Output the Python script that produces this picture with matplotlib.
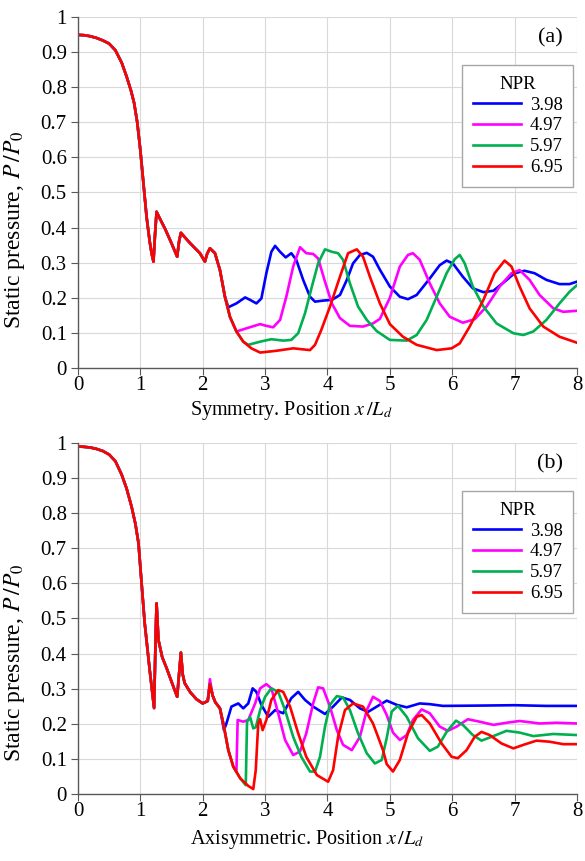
import numpy as np
import matplotlib.pyplot as plt

plt.rcParams["font.family"] = ["Liberation Serif", "DejaVu Serif"]
plt.rcParams["mathtext.fontset"] = "stix"

NPR = ["3.98", "4.97", "5.97", "6.95"]
COLORS = ["#0000ff", "#ff00ff", "#00b050", "#ff0000"]

# ---------------------------------------------------------------------------
# (a) Symmetry: common part (all NPR identical up to x ~ 2.36)
# ---------------------------------------------------------------------------
a_head_x = [0, 0.1, 0.2, 0.3, 0.4, 0.5, 0.6, 0.7, 0.78, 0.85, 0.9, 0.95, 1.0, 1.05,
            1.1, 1.15, 1.18, 1.21, 1.235, 1.26, 1.3, 1.4, 1.5, 1.59, 1.62, 1.65,
            1.7, 1.8, 1.955, 2.035, 2.07, 2.115, 2.196, 2.276, 2.356]
a_head_y = [0.949, 0.948, 0.945, 0.940, 0.933, 0.924, 0.905, 0.87, 0.83, 0.79,
            0.755, 0.70, 0.62, 0.525, 0.43, 0.36, 0.327, 0.303, 0.38, 0.445,
            0.43, 0.395, 0.355, 0.317, 0.36, 0.385, 0.375, 0.355, 0.327, 0.303,
            0.325, 0.341, 0.327, 0.279, 0.203]

a_x_398 = [2.41, 2.54, 2.68, 2.76, 2.86, 2.94, 3.02, 3.10, 3.16, 3.24, 3.33, 3.42,
           3.50, 3.61, 3.72, 3.80, 3.93, 4.07, 4.2, 4.31, 4.41, 4.52, 4.63, 4.73,
           4.84, 5.0, 5.16, 5.29, 5.43, 5.64, 5.80, 5.91, 6.01, 6.17, 6.33, 6.5,
           6.66, 6.84, 7.0, 7.16, 7.32, 7.51, 7.72, 7.88, 8.0]
a_y_398 = [0.173, 0.184, 0.201, 0.194, 0.184, 0.198, 0.27, 0.331, 0.348, 0.331,
           0.315, 0.327, 0.308, 0.251, 0.203, 0.189, 0.192, 0.194, 0.208, 0.251,
           0.298, 0.322, 0.328, 0.317, 0.28, 0.232, 0.203, 0.196, 0.208, 0.255,
           0.293, 0.306, 0.298, 0.26, 0.227, 0.216, 0.22, 0.246, 0.27, 0.277,
           0.27, 0.251, 0.239, 0.239, 0.246]

a_x_497 = [2.436, 2.54, 2.70, 2.92, 3.02, 3.13, 3.24, 3.34, 3.45, 3.56, 3.66, 3.77,
           3.85, 3.96, 4.07, 4.2, 4.36, 4.57, 4.73, 4.84, 4.92, 5.0, 5.16, 5.29,
           5.37, 5.48, 5.64, 5.80, 5.96, 6.17, 6.36, 6.55, 6.76, 6.95, 7.08, 7.24,
           7.40, 7.62, 7.78, 8.0]
a_y_497 = [0.146, 0.104, 0.113, 0.125, 0.12, 0.116, 0.137, 0.203, 0.289, 0.344,
           0.327, 0.325, 0.312, 0.246, 0.184, 0.142, 0.12, 0.118, 0.127, 0.14,
           0.17, 0.20, 0.289, 0.322, 0.327, 0.308, 0.241, 0.184, 0.146, 0.129,
           0.139, 0.175, 0.232, 0.27, 0.279, 0.251, 0.208, 0.17, 0.16, 0.163]

a_x_597 = [2.436, 2.54, 2.65, 2.73, 2.92, 3.10, 3.29, 3.42, 3.53, 3.64, 3.75, 3.85,
           3.96, 4.07, 4.17, 4.25, 4.36, 4.49, 4.63, 4.79, 5.0, 5.27, 5.43, 5.59,
           5.75, 5.91, 6.04, 6.12, 6.2, 6.33, 6.5, 6.71, 6.98, 7.14, 7.30, 7.51,
           7.72, 7.88, 8.0]
a_y_597 = [0.146, 0.104, 0.075, 0.066, 0.075, 0.082, 0.078, 0.08, 0.099, 0.156,
           0.232, 0.298, 0.338, 0.331, 0.327, 0.308, 0.241, 0.175, 0.137, 0.105,
           0.08, 0.078, 0.094, 0.137, 0.203, 0.27, 0.31, 0.322, 0.298, 0.232,
           0.175, 0.127, 0.099, 0.094, 0.104, 0.137, 0.184, 0.217, 0.236]

a_x_695 = [2.436, 2.54, 2.65, 2.78, 2.92, 3.18, 3.45, 3.72, 3.80, 3.90, 4.04, 4.2,
           4.33, 4.47, 4.57, 4.68, 4.84, 5.0, 5.21, 5.43, 5.75, 5.99, 6.12, 6.28,
           6.5, 6.68, 6.84, 6.95, 7.08, 7.24, 7.46, 7.72, 8.0]
a_y_695 = [0.146, 0.104, 0.075, 0.056, 0.044, 0.049, 0.056, 0.051, 0.066, 0.108,
           0.175, 0.26, 0.327, 0.338, 0.317, 0.26, 0.184, 0.125, 0.089, 0.066,
           0.051, 0.056, 0.07, 0.118, 0.194, 0.27, 0.306, 0.289, 0.232, 0.17,
           0.118, 0.089, 0.072]

# ---------------------------------------------------------------------------
# (b) Axisymmetric: common part up to x ~ 2.0
# ---------------------------------------------------------------------------
b_head_x = [0, 0.1, 0.2, 0.3, 0.4, 0.5, 0.6, 0.7, 0.78, 0.86, 0.92, 0.97, 1.02,
            1.07, 1.15, 1.22, 1.245, 1.26, 1.29, 1.35, 1.42, 1.5, 1.59, 1.65,
            1.68, 1.71, 1.8, 1.9, 2.0]
b_head_y = [0.99, 0.989, 0.987, 0.983, 0.977, 0.967, 0.948, 0.91, 0.87, 0.818,
            0.77, 0.715, 0.60, 0.486, 0.353, 0.245, 0.45, 0.543, 0.439, 0.39,
            0.359, 0.32, 0.277, 0.403, 0.34, 0.316, 0.29, 0.27, 0.258]

b_x_398 = [2.08, 2.115, 2.16, 2.2, 2.276, 2.34, 2.38, 2.46, 2.57, 2.65, 2.73, 2.80,
           2.86, 2.94, 3.05, 3.16, 3.29, 3.42, 3.53, 3.64, 3.77, 3.96, 4.09, 4.23,
           4.36, 4.52, 4.65, 4.79, 4.95, 5.11, 5.27, 5.48, 5.64, 5.85, 6.5, 7.0,
           7.5, 8.0]
b_y_398 = [0.265, 0.313, 0.28, 0.262, 0.244, 0.182, 0.201, 0.249, 0.258, 0.244,
           0.258, 0.301, 0.291, 0.254, 0.22, 0.239, 0.23, 0.273, 0.291, 0.268,
           0.249, 0.228, 0.249, 0.275, 0.268, 0.244, 0.234, 0.249, 0.266, 0.254,
           0.247, 0.258, 0.256, 0.251, 0.252, 0.253, 0.251, 0.251]

b_x_497 = [2.08, 2.115, 2.16, 2.2, 2.276, 2.33, 2.41, 2.49, 2.54, 2.56, 2.65, 2.73,
           2.84, 2.92, 3.02, 3.10, 3.21, 3.32, 3.45, 3.56, 3.66, 3.77, 3.85, 3.93,
           4.04, 4.15, 4.25, 4.39, 4.52, 4.63, 4.73, 4.84, 4.95, 5.05, 5.16, 5.27,
           5.37, 5.51, 5.64, 5.80, 5.93, 6.07, 6.25, 6.44, 6.66, 6.87, 7.08, 7.40,
           7.67, 8.0]
b_y_497 = [0.265, 0.327, 0.28, 0.262, 0.244, 0.201, 0.125, 0.078, 0.064, 0.211,
           0.206, 0.211, 0.258, 0.301, 0.313, 0.301, 0.23, 0.154, 0.111, 0.121,
           0.173, 0.258, 0.304, 0.301, 0.249, 0.182, 0.14, 0.125, 0.163, 0.239,
           0.277, 0.265, 0.225, 0.175, 0.154, 0.168, 0.211, 0.241, 0.23, 0.192,
           0.18, 0.192, 0.213, 0.206, 0.197, 0.203, 0.208, 0.201, 0.203, 0.201]

b_x_597 = [2.08, 2.115, 2.16, 2.2, 2.276, 2.33, 2.41, 2.49, 2.60, 2.69, 2.71, 2.76,
           2.81, 2.85, 2.92, 3.0, 3.10, 3.21, 3.32, 3.45, 3.58, 3.72, 3.80, 3.88,
           3.96, 4.04, 4.15, 4.25, 4.36, 4.49, 4.63, 4.76, 4.87, 4.95, 5.03, 5.13,
           5.27, 5.45, 5.64, 5.77, 5.91, 6.06, 6.17, 6.33, 6.47, 6.66, 6.87, 7.08,
           7.30, 7.62, 8.0]
b_y_597 = [0.265, 0.313, 0.28, 0.262, 0.244, 0.201, 0.125, 0.078, 0.045, 0.025,
           0.205, 0.219, 0.187, 0.19, 0.239, 0.277, 0.301, 0.291, 0.239, 0.163,
           0.106, 0.064, 0.064, 0.106, 0.192, 0.254, 0.279, 0.275, 0.239, 0.173,
           0.116, 0.087, 0.097, 0.16, 0.235, 0.251, 0.22, 0.159, 0.123, 0.135,
           0.177, 0.209, 0.197, 0.168, 0.152, 0.165, 0.18, 0.175, 0.165, 0.171,
           0.168]

b_x_695 = [2.08, 2.115, 2.16, 2.2, 2.276, 2.33, 2.41, 2.49, 2.60, 2.73, 2.81, 2.85,
           2.89, 2.92, 2.96, 3.02, 3.10, 3.21, 3.29, 3.40, 3.53, 3.66, 3.83, 4.01,
           4.09, 4.17, 4.28, 4.41, 4.57, 4.73, 4.89, 4.95, 5.05, 5.16, 5.29, 5.43,
           5.51, 5.64, 5.83, 5.99, 6.09, 6.23, 6.36, 6.47, 6.60, 6.79, 6.98, 7.14,
           7.35, 7.56, 7.78, 8.0]
b_y_695 = [0.265, 0.313, 0.28, 0.262, 0.244, 0.201, 0.125, 0.078, 0.045, 0.023,
           0.014, 0.068, 0.201, 0.213, 0.182, 0.211, 0.268, 0.296, 0.291, 0.249,
           0.173, 0.106, 0.054, 0.035, 0.068, 0.163, 0.239, 0.258, 0.249, 0.201,
           0.125, 0.085, 0.064, 0.097, 0.173, 0.22, 0.225, 0.201, 0.144, 0.106,
           0.102, 0.125, 0.163, 0.177, 0.168, 0.144, 0.13, 0.14, 0.152, 0.149,
           0.142, 0.142]

panels = [
    dict(head=(a_head_x, a_head_y),
         tails=[(a_x_398, a_y_398), (a_x_497, a_y_497),
                (a_x_597, a_y_597), (a_x_695, a_y_695)],
         tag="(a)", xlabel="Symmetry. Position $x\\,/L_d$", xlab_pos=(0.428, -0.087),
         ylab_pos=0.393, rect=[0.1333, 0.5726, 0.853, 0.4077]),
    dict(head=(b_head_x, b_head_y),
         tails=[(b_x_398, b_y_398), (b_x_497, b_y_497),
                (b_x_597, b_y_597), (b_x_695, b_y_695)],
         tag="(b)", xlabel="Axisymmetric. Position $x\\,/L_d$", xlab_pos=(0.459, -0.096),
         ylab_pos=0.375, rect=[0.1333, 0.0778, 0.853, 0.4077]),
]

fig = plt.figure(figsize=(5.85, 8.61), dpi=100)
axis_col = "#595959"

for p in panels:
    ax = fig.add_axes(p["rect"])
    hx, hy = p["head"]
    for (tx, ty), lab, col in zip(p["tails"], NPR, COLORS):
        ax.plot(hx + tx, hy + ty, color=col, lw=1.9, label=lab,
                solid_joinstyle="round")
    ax.set_xlim(0, 8)
    ax.set_ylim(0, 1)
    ax.set_xticks(range(0, 9))
    ax.set_yticks(np.arange(0, 1.01, 0.1))
    ax.set_yticklabels(["0"] + [f"{v:.1f}" for v in np.arange(0.1, 0.95, 0.1)] + ["1"])
    ax.grid(True, color="#d9d9d9", lw=0.8)
    ax.set_axisbelow(True)
    for s in ["top", "right"]:
        ax.spines[s].set_visible(False)
    for s in ["left", "bottom"]:
        ax.spines[s].set_color(axis_col)
        ax.spines[s].set_linewidth(1.0)
    ax.tick_params(direction="out", length=5, color=axis_col, labelsize=15)
    ax.tick_params(axis="x", pad=1)
    ax.tick_params(axis="y", pad=3)
    ax.set_xlabel(p["xlabel"], fontsize=14.5)
    ax.xaxis.set_label_coords(*p["xlab_pos"])
    ax.set_ylabel("Static pressure, $P\\,/P_0$", fontsize=17)
    ax.yaxis.set_label_coords(-0.102, p["ylab_pos"])
    ax.text(0.946, 0.94, p["tag"], transform=ax.transAxes, fontsize=16,
            ha="center", va="center")
    leg = ax.legend(title="NPR", loc="upper right", bbox_to_anchor=(0.992, 0.862),
                    borderaxespad=0, fontsize=13.5, title_fontsize=13.5,
                    frameon=True, fancybox=False, edgecolor="#a6a6a6",
                    framealpha=1, handlelength=2.6, handletextpad=0.45,
                    labelspacing=0.2, borderpad=0.55)
    leg.get_frame().set_linewidth(1.0)

plt.savefig("out.png", dpi=100)
